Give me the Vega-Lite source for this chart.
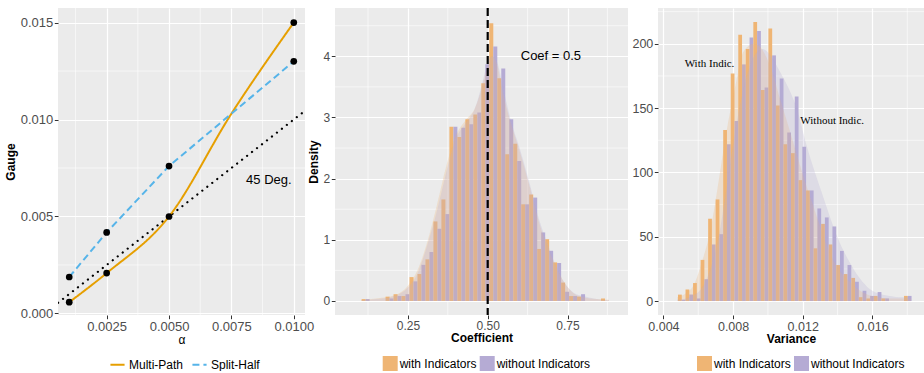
{
  "$schema": "https://vega.github.io/schema/vega-lite/v6.json",
  "padding": {"left": 4, "top": 6, "right": 0, "bottom": 0},
  "background": "white",
  "bounds": "flush",
  "spacing": 30,
  "resolve": {
    "scale": {"color": "independent", "strokeDash": "independent"},
    "legend": {"color": "independent", "strokeDash": "independent"}
  },
  "datasets": {
    "left_minor_x": [{"v": 0.00125}, {"v": 0.00375}, {"v": 0.00625}, {"v": 0.00875}],
    "left_minor_y": [{"v": 0.0025}, {"v": 0.0075}, {"v": 0.0125}],
    "mid_minor_x": [{"v": 0.125}, {"v": 0.375}, {"v": 0.625}, {"v": 0.875}],
    "mid_minor_y": [{"v": 0.5}, {"v": 1.5}, {"v": 2.5}, {"v": 3.5}, {"v": 4.5}],
    "right_minor_x": [{"v": 0.006}, {"v": 0.010}, {"v": 0.014}, {"v": 0.018}],
    "right_minor_y": [{"v": 25}, {"v": 75}, {"v": 125}, {"v": 175}, {"v": 225}],
    "left_diag": [{"x": 0.00055, "y": 0.00055}, {"x": 0.01045, "y": 0.01045}],
    "left_points": [
      {"x": 0.001, "y": 0.00058, "series": "Multi-Path"},
      {"x": 0.0025, "y": 0.00208, "series": "Multi-Path"},
      {"x": 0.005, "y": 0.005, "series": "Multi-Path"},
      {"x": 0.01, "y": 0.015, "series": "Multi-Path"},
      {"x": 0.001, "y": 0.00188, "series": "Split-Half"},
      {"x": 0.0025, "y": 0.00418, "series": "Split-Half"},
      {"x": 0.005, "y": 0.0076, "series": "Split-Half"},
      {"x": 0.01, "y": 0.013, "series": "Split-Half"}
    ],
    "left_lines": [
      {"x": 0.001, "y": 0.00058, "series": "Multi-Path"},
      {"x": 0.0025, "y": 0.00208, "series": "Multi-Path"},
      {"x": 0.005, "y": 0.005, "series": "Multi-Path"},
      {"x": 0.0075, "y": 0.0103, "series": "Multi-Path"},
      {"x": 0.01, "y": 0.015, "series": "Multi-Path"},
      {"x": 0.001, "y": 0.00188, "series": "Split-Half"},
      {"x": 0.0025, "y": 0.00418, "series": "Split-Half"},
      {"x": 0.005, "y": 0.0076, "series": "Split-Half"},
      {"x": 0.01, "y": 0.013, "series": "Split-Half"}
    ],
    "mid_bars": [
      {"lo": 0.105, "hi": 0.1175, "g": "with Indicators", "d": 0.03},
      {"lo": 0.1175, "hi": 0.13, "g": "without Indicators", "d": 0.03},
      {"lo": 0.18, "hi": 0.1925, "g": "with Indicators", "d": 0.07},
      {"lo": 0.1925, "hi": 0.205, "g": "without Indicators", "d": 0.04},
      {"lo": 0.205, "hi": 0.2175, "g": "with Indicators", "d": 0.11},
      {"lo": 0.2175, "hi": 0.23, "g": "without Indicators", "d": 0.08},
      {"lo": 0.23, "hi": 0.2425, "g": "with Indicators", "d": 0.08},
      {"lo": 0.2425, "hi": 0.255, "g": "without Indicators", "d": 0.11},
      {"lo": 0.255, "hi": 0.2675, "g": "with Indicators", "d": 0.39},
      {"lo": 0.2675, "hi": 0.28, "g": "without Indicators", "d": 0.32},
      {"lo": 0.28, "hi": 0.2925, "g": "with Indicators", "d": 0.44},
      {"lo": 0.2925, "hi": 0.305, "g": "without Indicators", "d": 0.59},
      {"lo": 0.305, "hi": 0.3175, "g": "with Indicators", "d": 0.68},
      {"lo": 0.3175, "hi": 0.33, "g": "without Indicators", "d": 0.80},
      {"lo": 0.33, "hi": 0.3425, "g": "with Indicators", "d": 1.30},
      {"lo": 0.3425, "hi": 0.355, "g": "without Indicators", "d": 1.18},
      {"lo": 0.355, "hi": 0.3675, "g": "with Indicators", "d": 1.66},
      {"lo": 0.3675, "hi": 0.38, "g": "without Indicators", "d": 1.42},
      {"lo": 0.38, "hi": 0.3925, "g": "with Indicators", "d": 2.85},
      {"lo": 0.3925, "hi": 0.405, "g": "without Indicators", "d": 2.85},
      {"lo": 0.405, "hi": 0.4175, "g": "with Indicators", "d": 2.68},
      {"lo": 0.4175, "hi": 0.43, "g": "without Indicators", "d": 2.83},
      {"lo": 0.43, "hi": 0.4425, "g": "with Indicators", "d": 2.97},
      {"lo": 0.4425, "hi": 0.455, "g": "without Indicators", "d": 2.89},
      {"lo": 0.455, "hi": 0.4675, "g": "with Indicators", "d": 3.05},
      {"lo": 0.4675, "hi": 0.48, "g": "without Indicators", "d": 3.08},
      {"lo": 0.48, "hi": 0.4925, "g": "with Indicators", "d": 3.56},
      {"lo": 0.4925, "hi": 0.505, "g": "without Indicators", "d": 3.87},
      {"lo": 0.505, "hi": 0.5175, "g": "with Indicators", "d": 4.54},
      {"lo": 0.5175, "hi": 0.53, "g": "without Indicators", "d": 4.16},
      {"lo": 0.53, "hi": 0.5425, "g": "with Indicators", "d": 3.64},
      {"lo": 0.5425, "hi": 0.555, "g": "without Indicators", "d": 3.80},
      {"lo": 0.555, "hi": 0.5675, "g": "with Indicators", "d": 2.40},
      {"lo": 0.5675, "hi": 0.58, "g": "without Indicators", "d": 2.97},
      {"lo": 0.58, "hi": 0.5925, "g": "with Indicators", "d": 2.57},
      {"lo": 0.5925, "hi": 0.605, "g": "without Indicators", "d": 2.29},
      {"lo": 0.605, "hi": 0.6175, "g": "with Indicators", "d": 1.58},
      {"lo": 0.6175, "hi": 0.63, "g": "without Indicators", "d": 1.58},
      {"lo": 0.63, "hi": 0.6425, "g": "with Indicators", "d": 1.74},
      {"lo": 0.6425, "hi": 0.655, "g": "without Indicators", "d": 1.69},
      {"lo": 0.655, "hi": 0.6675, "g": "with Indicators", "d": 0.85},
      {"lo": 0.6675, "hi": 0.68, "g": "without Indicators", "d": 1.12},
      {"lo": 0.68, "hi": 0.6925, "g": "with Indicators", "d": 1.01},
      {"lo": 0.6925, "hi": 0.705, "g": "without Indicators", "d": 0.82},
      {"lo": 0.705, "hi": 0.7175, "g": "with Indicators", "d": 0.63},
      {"lo": 0.7175, "hi": 0.73, "g": "without Indicators", "d": 0.62},
      {"lo": 0.73, "hi": 0.7425, "g": "with Indicators", "d": 0.30},
      {"lo": 0.7425, "hi": 0.755, "g": "without Indicators", "d": 0.15},
      {"lo": 0.755, "hi": 0.7675, "g": "with Indicators", "d": 0.08},
      {"lo": 0.7675, "hi": 0.78, "g": "without Indicators", "d": 0.08},
      {"lo": 0.78, "hi": 0.7925, "g": "with Indicators", "d": 0.07},
      {"lo": 0.7925, "hi": 0.805, "g": "without Indicators", "d": 0.11},
      {"lo": 0.855, "hi": 0.8675, "g": "with Indicators", "d": 0.04}
    ],
    "mid_dens": [
      {"x": 0.105, "y": 0.02, "g": "with Indicators"},
      {"x": 0.15, "y": 0.04, "g": "with Indicators"},
      {"x": 0.2, "y": 0.08, "g": "with Indicators"},
      {"x": 0.25, "y": 0.25, "g": "with Indicators"},
      {"x": 0.28, "y": 0.5, "g": "with Indicators"},
      {"x": 0.31, "y": 0.95, "g": "with Indicators"},
      {"x": 0.34, "y": 1.55, "g": "with Indicators"},
      {"x": 0.37, "y": 2.2, "g": "with Indicators"},
      {"x": 0.4, "y": 2.7, "g": "with Indicators"},
      {"x": 0.43, "y": 2.95, "g": "with Indicators"},
      {"x": 0.46, "y": 3.15, "g": "with Indicators"},
      {"x": 0.48, "y": 3.45, "g": "with Indicators"},
      {"x": 0.5, "y": 3.85, "g": "with Indicators"},
      {"x": 0.515, "y": 4.0, "g": "with Indicators"},
      {"x": 0.53, "y": 3.85, "g": "with Indicators"},
      {"x": 0.55, "y": 3.35, "g": "with Indicators"},
      {"x": 0.57, "y": 2.95, "g": "with Indicators"},
      {"x": 0.6, "y": 2.45, "g": "with Indicators"},
      {"x": 0.63, "y": 1.9, "g": "with Indicators"},
      {"x": 0.66, "y": 1.3, "g": "with Indicators"},
      {"x": 0.69, "y": 0.85, "g": "with Indicators"},
      {"x": 0.71, "y": 0.6, "g": "with Indicators"},
      {"x": 0.74, "y": 0.3, "g": "with Indicators"},
      {"x": 0.77, "y": 0.12, "g": "with Indicators"},
      {"x": 0.8, "y": 0.06, "g": "with Indicators"},
      {"x": 0.84, "y": 0.03, "g": "with Indicators"},
      {"x": 0.88, "y": 0.02, "g": "with Indicators"},
      {"x": 0.105, "y": 0.01, "g": "without Indicators"},
      {"x": 0.15, "y": 0.03, "g": "without Indicators"},
      {"x": 0.2, "y": 0.07, "g": "without Indicators"},
      {"x": 0.25, "y": 0.22, "g": "without Indicators"},
      {"x": 0.28, "y": 0.45, "g": "without Indicators"},
      {"x": 0.31, "y": 0.9, "g": "without Indicators"},
      {"x": 0.34, "y": 1.45, "g": "without Indicators"},
      {"x": 0.37, "y": 2.1, "g": "without Indicators"},
      {"x": 0.4, "y": 2.65, "g": "without Indicators"},
      {"x": 0.43, "y": 2.9, "g": "without Indicators"},
      {"x": 0.46, "y": 3.15, "g": "without Indicators"},
      {"x": 0.48, "y": 3.5, "g": "without Indicators"},
      {"x": 0.5, "y": 3.9, "g": "without Indicators"},
      {"x": 0.515, "y": 4.0, "g": "without Indicators"},
      {"x": 0.53, "y": 3.9, "g": "without Indicators"},
      {"x": 0.55, "y": 3.45, "g": "without Indicators"},
      {"x": 0.57, "y": 3.0, "g": "without Indicators"},
      {"x": 0.6, "y": 2.5, "g": "without Indicators"},
      {"x": 0.63, "y": 1.95, "g": "without Indicators"},
      {"x": 0.66, "y": 1.35, "g": "without Indicators"},
      {"x": 0.69, "y": 0.9, "g": "without Indicators"},
      {"x": 0.71, "y": 0.62, "g": "without Indicators"},
      {"x": 0.74, "y": 0.3, "g": "without Indicators"},
      {"x": 0.77, "y": 0.13, "g": "without Indicators"},
      {"x": 0.8, "y": 0.08, "g": "without Indicators"},
      {"x": 0.84, "y": 0.03, "g": "without Indicators"},
      {"x": 0.88, "y": 0.01, "g": "without Indicators"}
    ],
    "right_bars": [
      {"lo": 0.0048380, "hi": 0.0050543, "g": "with Indicators", "n": 5},
      {"lo": 0.0050543, "hi": 0.0052705, "g": "without Indicators", "n": 1},
      {"lo": 0.0052705, "hi": 0.0054868, "g": "with Indicators", "n": 9},
      {"lo": 0.0054868, "hi": 0.0057030, "g": "without Indicators", "n": 5},
      {"lo": 0.0057030, "hi": 0.0059193, "g": "with Indicators", "n": 14},
      {"lo": 0.0059193, "hi": 0.0061355, "g": "without Indicators", "n": 2},
      {"lo": 0.0061355, "hi": 0.0063518, "g": "with Indicators", "n": 32},
      {"lo": 0.0063518, "hi": 0.0065680, "g": "without Indicators", "n": 17},
      {"lo": 0.0065680, "hi": 0.0067843, "g": "with Indicators", "n": 64},
      {"lo": 0.0067843, "hi": 0.0070005, "g": "without Indicators", "n": 44},
      {"lo": 0.0070005, "hi": 0.0072168, "g": "with Indicators", "n": 79},
      {"lo": 0.0072168, "hi": 0.0074330, "g": "without Indicators", "n": 52},
      {"lo": 0.0074330, "hi": 0.0076493, "g": "with Indicators", "n": 133},
      {"lo": 0.0076493, "hi": 0.0078655, "g": "without Indicators", "n": 122},
      {"lo": 0.0078655, "hi": 0.0080818, "g": "with Indicators", "n": 177},
      {"lo": 0.0080818, "hi": 0.0082980, "g": "without Indicators", "n": 140},
      {"lo": 0.0082980, "hi": 0.0085143, "g": "with Indicators", "n": 207},
      {"lo": 0.0085143, "hi": 0.0087305, "g": "without Indicators", "n": 184},
      {"lo": 0.0087305, "hi": 0.0089468, "g": "with Indicators", "n": 196},
      {"lo": 0.0089468, "hi": 0.0091630, "g": "without Indicators", "n": 205},
      {"lo": 0.0091630, "hi": 0.0093793, "g": "with Indicators", "n": 217},
      {"lo": 0.0093793, "hi": 0.0095955, "g": "without Indicators", "n": 210},
      {"lo": 0.0095955, "hi": 0.0098118, "g": "with Indicators", "n": 164},
      {"lo": 0.0098118, "hi": 0.0100280, "g": "without Indicators", "n": 166},
      {"lo": 0.0100280, "hi": 0.0102443, "g": "with Indicators", "n": 212},
      {"lo": 0.0102443, "hi": 0.0104605, "g": "without Indicators", "n": 191},
      {"lo": 0.0104605, "hi": 0.0106768, "g": "with Indicators", "n": 152},
      {"lo": 0.0106768, "hi": 0.0108930, "g": "without Indicators", "n": 173},
      {"lo": 0.0108930, "hi": 0.0111093, "g": "with Indicators", "n": 122},
      {"lo": 0.0111093, "hi": 0.0113255, "g": "without Indicators", "n": 131},
      {"lo": 0.0113255, "hi": 0.0115418, "g": "with Indicators", "n": 115},
      {"lo": 0.0115418, "hi": 0.0117580, "g": "without Indicators", "n": 159},
      {"lo": 0.0117580, "hi": 0.0119743, "g": "with Indicators", "n": 94},
      {"lo": 0.0119743, "hi": 0.0121905, "g": "without Indicators", "n": 120},
      {"lo": 0.0121905, "hi": 0.0124068, "g": "with Indicators", "n": 86},
      {"lo": 0.0124068, "hi": 0.0126230, "g": "without Indicators", "n": 86},
      {"lo": 0.0126230, "hi": 0.0128393, "g": "with Indicators", "n": 41},
      {"lo": 0.0128393, "hi": 0.0130555, "g": "without Indicators", "n": 72},
      {"lo": 0.0130555, "hi": 0.0132718, "g": "with Indicators", "n": 60},
      {"lo": 0.0132718, "hi": 0.0134880, "g": "without Indicators", "n": 65},
      {"lo": 0.0134880, "hi": 0.0137043, "g": "with Indicators", "n": 44},
      {"lo": 0.0137043, "hi": 0.0139205, "g": "without Indicators", "n": 58},
      {"lo": 0.0139205, "hi": 0.0141368, "g": "with Indicators", "n": 28},
      {"lo": 0.0141368, "hi": 0.0143530, "g": "without Indicators", "n": 39},
      {"lo": 0.0143530, "hi": 0.0145693, "g": "with Indicators", "n": 21},
      {"lo": 0.0145693, "hi": 0.0147855, "g": "without Indicators", "n": 28},
      {"lo": 0.0147855, "hi": 0.0150018, "g": "with Indicators", "n": 18},
      {"lo": 0.0150018, "hi": 0.0152180, "g": "without Indicators", "n": 15},
      {"lo": 0.0152180, "hi": 0.0154343, "g": "with Indicators", "n": 3},
      {"lo": 0.0154343, "hi": 0.0156505, "g": "without Indicators", "n": 8},
      {"lo": 0.0156505, "hi": 0.0158668, "g": "with Indicators", "n": 2},
      {"lo": 0.0158668, "hi": 0.0160830, "g": "without Indicators", "n": 4},
      {"lo": 0.0160830, "hi": 0.0162993, "g": "with Indicators", "n": 4},
      {"lo": 0.0162993, "hi": 0.0165155, "g": "without Indicators", "n": 7},
      {"lo": 0.0165155, "hi": 0.0167318, "g": "with Indicators", "n": 2},
      {"lo": 0.0167318, "hi": 0.0169480, "g": "without Indicators", "n": 2},
      {"lo": 0.0178130, "hi": 0.0180293, "g": "with Indicators", "n": 4},
      {"lo": 0.0180293, "hi": 0.0182455, "g": "without Indicators", "n": 4}
    ],
    "right_dens": [
      {"x": 0.0048, "y": 3, "g": "with Indicators"},
      {"x": 0.0053, "y": 6, "g": "with Indicators"},
      {"x": 0.0058, "y": 14, "g": "with Indicators"},
      {"x": 0.0062, "y": 30, "g": "with Indicators"},
      {"x": 0.0067, "y": 55, "g": "with Indicators"},
      {"x": 0.0071, "y": 87, "g": "with Indicators"},
      {"x": 0.0076, "y": 130, "g": "with Indicators"},
      {"x": 0.0081, "y": 165, "g": "with Indicators"},
      {"x": 0.0086, "y": 194, "g": "with Indicators"},
      {"x": 0.0092, "y": 200, "g": "with Indicators"},
      {"x": 0.0097, "y": 195, "g": "with Indicators"},
      {"x": 0.0102, "y": 180, "g": "with Indicators"},
      {"x": 0.0107, "y": 157, "g": "with Indicators"},
      {"x": 0.0112, "y": 135, "g": "with Indicators"},
      {"x": 0.0117, "y": 112, "g": "with Indicators"},
      {"x": 0.0122, "y": 90, "g": "with Indicators"},
      {"x": 0.0127, "y": 70, "g": "with Indicators"},
      {"x": 0.0132, "y": 50, "g": "with Indicators"},
      {"x": 0.0137, "y": 33, "g": "with Indicators"},
      {"x": 0.0142, "y": 22, "g": "with Indicators"},
      {"x": 0.0147, "y": 15, "g": "with Indicators"},
      {"x": 0.0152, "y": 9, "g": "with Indicators"},
      {"x": 0.0157, "y": 5, "g": "with Indicators"},
      {"x": 0.0163, "y": 3, "g": "with Indicators"},
      {"x": 0.017, "y": 2, "g": "with Indicators"},
      {"x": 0.0177, "y": 2, "g": "with Indicators"},
      {"x": 0.0182, "y": 2, "g": "with Indicators"},
      {"x": 0.0048, "y": 1, "g": "without Indicators"},
      {"x": 0.0053, "y": 2, "g": "without Indicators"},
      {"x": 0.0058, "y": 5, "g": "without Indicators"},
      {"x": 0.0062, "y": 10, "g": "without Indicators"},
      {"x": 0.0067, "y": 25, "g": "without Indicators"},
      {"x": 0.0071, "y": 45, "g": "without Indicators"},
      {"x": 0.0076, "y": 85, "g": "without Indicators"},
      {"x": 0.0081, "y": 130, "g": "without Indicators"},
      {"x": 0.0086, "y": 165, "g": "without Indicators"},
      {"x": 0.0092, "y": 190, "g": "without Indicators"},
      {"x": 0.0097, "y": 196, "g": "without Indicators"},
      {"x": 0.0102, "y": 190, "g": "without Indicators"},
      {"x": 0.0107, "y": 178, "g": "without Indicators"},
      {"x": 0.0112, "y": 165, "g": "without Indicators"},
      {"x": 0.0117, "y": 148, "g": "without Indicators"},
      {"x": 0.0122, "y": 122, "g": "without Indicators"},
      {"x": 0.0127, "y": 100, "g": "without Indicators"},
      {"x": 0.0132, "y": 80, "g": "without Indicators"},
      {"x": 0.0137, "y": 60, "g": "without Indicators"},
      {"x": 0.0142, "y": 43, "g": "without Indicators"},
      {"x": 0.0147, "y": 30, "g": "without Indicators"},
      {"x": 0.0152, "y": 19, "g": "without Indicators"},
      {"x": 0.0157, "y": 11, "g": "without Indicators"},
      {"x": 0.0163, "y": 6, "g": "without Indicators"},
      {"x": 0.017, "y": 4, "g": "without Indicators"},
      {"x": 0.0177, "y": 3, "g": "without Indicators"},
      {"x": 0.0182, "y": 3, "g": "without Indicators"}
    ]
  },
  "hconcat": [
    {
      "width": 247,
      "height": 307,
      "layer": [
        {
          "data": {"name": "left_minor_x"},
          "mark": {"type": "rule", "color": "#FFFFFF", "strokeWidth": 0.6},
          "encoding": {
            "x": {"field": "v", "type": "quantitative",
              "scale": {"domain": [0.00055, 0.01045], "nice": false, "zero": false},
              "axis": {"title": "α", "titleFontWeight": "normal", "values": [0.0025, 0.005, 0.0075, 0.01], "format": ".4f", "labelFontSize": 13}}
          }
        },
        {
          "data": {"name": "left_minor_y"},
          "mark": {"type": "rule", "color": "#FFFFFF", "strokeWidth": 0.6},
          "encoding": {
            "y": {"field": "v", "type": "quantitative",
              "scale": {"domain": [-0.00008, 0.01575], "nice": false, "zero": false},
              "axis": {"title": "Gauge", "values": [0, 0.005, 0.01, 0.015], "format": ".3f", "labelFontSize": 13, "minExtent": 37, "maxExtent": 37, "titlePadding": 4}}
          }
        },
        {
          "data": {"name": "left_diag"},
          "mark": {"type": "line", "color": "#000000", "strokeDash": [0.1, 6.2], "strokeCap": "round", "strokeWidth": 2.2, "clip": true},
          "encoding": {
            "x": {"field": "x", "type": "quantitative"},
            "y": {"field": "y", "type": "quantitative"}
          }
        },
        {
          "data": {"name": "left_lines"},
          "transform": [{"filter": "datum.series == 'Multi-Path'"}],
          "mark": {"type": "line", "interpolate": "monotone", "strokeWidth": 2},
          "encoding": {
            "x": {"field": "x", "type": "quantitative"},
            "y": {"field": "y", "type": "quantitative"},
            "color": {"field": "series", "type": "nominal",
              "scale": {"domain": ["Multi-Path", "Split-Half"], "range": ["#E69F00", "#56B4E9"]},
              "legend": {"orient": "none", "legendX": 51, "legendY": 348, "direction": "horizontal", "title": null, "symbolType": "stroke", "symbolSize": 200, "symbolStrokeWidth": 2, "labelFontSize": 12, "labelOffset": 3, "columnPadding": 4}},
            "strokeDash": {"field": "series", "type": "nominal",
              "scale": {"domain": ["Multi-Path", "Split-Half"], "range": [[1, 0], [7, 4]]},
              "legend": {"orient": "none", "legendX": 51, "legendY": 348, "direction": "horizontal", "title": null, "symbolType": "stroke", "symbolSize": 200, "symbolStrokeWidth": 2, "labelFontSize": 12, "labelOffset": 3, "columnPadding": 4}}
          }
        },
        {
          "data": {"name": "left_lines"},
          "transform": [{"filter": "datum.series == 'Split-Half'"}],
          "mark": {"type": "line", "interpolate": "linear", "strokeWidth": 2},
          "encoding": {
            "x": {"field": "x", "type": "quantitative"},
            "y": {"field": "y", "type": "quantitative"},
            "color": {"field": "series", "type": "nominal"},
            "strokeDash": {"field": "series", "type": "nominal"}
          }
        },
        {
          "data": {"name": "left_points"},
          "mark": {"type": "circle", "color": "#000000", "size": 45, "opacity": 1},
          "encoding": {
            "x": {"field": "x", "type": "quantitative"},
            "y": {"field": "y", "type": "quantitative"}
          }
        },
        {
          "data": {"values": [{"x": 0.009, "y": 0.0069, "label": "45 Deg."}]},
          "mark": {"type": "text", "fontSize": 13, "color": "#000000", "align": "center", "baseline": "middle"},
          "encoding": {
            "x": {"field": "x", "type": "quantitative"},
            "y": {"field": "y", "type": "quantitative"},
            "text": {"field": "label"}
          }
        }
      ]
    },
    {
      "width": 293,
      "height": 307,
      "layer": [
        {
          "data": {"name": "mid_minor_x"},
          "mark": {"type": "rule", "color": "#FFFFFF", "strokeWidth": 0.6},
          "encoding": {
            "x": {"field": "v", "type": "quantitative",
              "scale": {"domain": [0.0216, 0.9395], "nice": false, "zero": false},
              "axis": {"title": "Coefficient", "values": [0.25, 0.5, 0.75], "format": ".2f"}}
          }
        },
        {
          "data": {"name": "mid_minor_y"},
          "mark": {"type": "rule", "color": "#FFFFFF", "strokeWidth": 0.6},
          "encoding": {
            "y": {"field": "v", "type": "quantitative",
              "scale": {"domain": [-0.23, 4.79], "nice": false, "zero": false},
              "axis": {"title": "Density", "values": [0, 1, 2, 3, 4], "format": "d", "titlePadding": 3}}
          }
        },
        {
          "data": {"name": "mid_bars"},
          "mark": {"type": "rect"},
          "encoding": {
            "x": {"field": "lo", "type": "quantitative"},
            "x2": {"field": "hi"},
            "y": {"field": "d", "type": "quantitative"},
            "y2": {"datum": 0},
            "color": {"field": "g", "type": "nominal",
              "scale": {"domain": ["with Indicators", "without Indicators"], "range": ["#EFB574", "#B5ABD4"]},
              "legend": {"orient": "none", "legendX": 47.7, "legendY": 348, "direction": "horizontal", "title": null, "symbolType": "square", "symbolSize": 225, "symbolOpacity": 1, "symbolStrokeWidth": 0, "labelFontSize": 12, "labelOffset": 2, "columnPadding": 3,
                "encode": {"symbols": {"update": {"opacity": {"value": 1}, "fillOpacity": {"value": 1}}}}}}
          }
        },
        {
          "data": {"name": "mid_dens"},
          "mark": {"type": "area", "fillOpacity": 0.25, "interpolate": "monotone"},
          "encoding": {
            "x": {"field": "x", "type": "quantitative"},
            "y": {"field": "y", "type": "quantitative"},
            "y2": {"datum": 0},
            "color": {"field": "g", "type": "nominal"}
          }
        },
        {
          "data": {"values": [{"coef": 0.5}]},
          "mark": {"type": "rule", "color": "#000000", "strokeDash": [8, 4], "strokeWidth": 2.2},
          "encoding": {
            "x": {"field": "coef", "type": "quantitative"}
          }
        },
        {
          "data": {"values": [{"x": 0.698, "y": 4.0, "label": "Coef = 0.5"}]},
          "mark": {"type": "text", "fontSize": 13, "color": "#000000", "align": "center", "baseline": "middle"},
          "encoding": {
            "x": {"field": "x", "type": "quantitative"},
            "y": {"field": "y", "type": "quantitative"},
            "text": {"field": "label"}
          }
        }
      ]
    },
    {
      "width": 266,
      "height": 307,
      "layer": [
        {
          "data": {"name": "right_minor_x"},
          "mark": {"type": "rule", "color": "#FFFFFF", "strokeWidth": 0.6},
          "encoding": {
            "x": {"field": "v", "type": "quantitative",
              "scale": {"domain": [0.00369, 0.01896], "nice": false, "zero": false},
              "axis": {"title": "Variance", "values": [0.004, 0.008, 0.012, 0.016], "format": ".3f", "labelFontSize": 12.5}}
          }
        },
        {
          "data": {"name": "right_minor_y"},
          "mark": {"type": "rule", "color": "#FFFFFF", "strokeWidth": 0.6},
          "encoding": {
            "y": {"field": "v", "type": "quantitative",
              "scale": {"domain": [-10.85, 227.85], "nice": false, "zero": false},
              "axis": {"title": null, "values": [0, 50, 100, 150, 200], "format": "d", "labelFontSize": 12.5}}
          }
        },
        {
          "data": {"name": "right_bars"},
          "mark": {"type": "rect"},
          "encoding": {
            "x": {"field": "lo", "type": "quantitative"},
            "x2": {"field": "hi"},
            "y": {"field": "n", "type": "quantitative"},
            "y2": {"datum": 0},
            "color": {"field": "g", "type": "nominal",
              "scale": {"domain": ["with Indicators", "without Indicators"], "range": ["#EFB574", "#B5ABD4"]},
              "legend": {"orient": "none", "legendX": 39, "legendY": 348, "direction": "horizontal", "title": null, "symbolType": "square", "symbolSize": 225, "symbolOpacity": 1, "symbolStrokeWidth": 0, "labelFontSize": 12, "labelOffset": 2, "columnPadding": 3,
                "encode": {"symbols": {"update": {"opacity": {"value": 1}, "fillOpacity": {"value": 1}}}}}}
          }
        },
        {
          "data": {"name": "right_dens"},
          "mark": {"type": "area", "fillOpacity": 0.25, "interpolate": "monotone"},
          "encoding": {
            "x": {"field": "x", "type": "quantitative"},
            "y": {"field": "y", "type": "quantitative"},
            "y2": {"datum": 0},
            "color": {"field": "g", "type": "nominal"}
          }
        },
        {
          "data": {"values": [
            {"x": 0.006647, "y": 184.5, "label": "With Indic."},
            {"x": 0.01369, "y": 139.7, "label": "Without Indic."}
          ]},
          "mark": {"type": "text", "font": "Liberation Serif", "fontSize": 11, "color": "#000000", "align": "center", "baseline": "middle"},
          "encoding": {
            "x": {"field": "x", "type": "quantitative"},
            "y": {"field": "y", "type": "quantitative"},
            "text": {"field": "label"}
          }
        }
      ]
    }
  ],
  "config": {
    "view": {"fill": "#EBEBEB", "stroke": null},
    "font": "Liberation Sans",
    "axis": {
      "domain": false,
      "grid": true,
      "gridColor": "#FFFFFF",
      "gridWidth": 1.2,
      "ticks": true,
      "tickColor": "#333333",
      "tickSize": 3.7,
      "tickWidth": 1,
      "labelColor": "#4D4D4D",
      "labelFontSize": 12,
      "labelPadding": 1.5,
      "labelFlush": false,
      "labelOverlap": false,
      "titleFontSize": 12,
      "titleFontWeight": "bold",
      "titleColor": "#000000"
    },
    "axisX": {"titlePadding": 1},
    "axisY": {"titlePadding": 3},
    "legend": {"labelFontSize": 12, "labelColor": "#000000", "padding": 0}
  }
}
